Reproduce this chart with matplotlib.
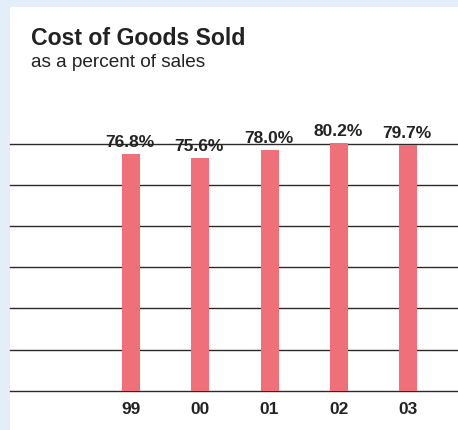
import matplotlib
matplotlib.use("Agg")
import matplotlib.pyplot as plt
from matplotlib.patches import Rectangle
import numpy as np

years = ["99", "00", "01", "02", "03"]
values = [76.8, 75.6, 78.0, 80.2, 79.7]
labels = ["76.8%", "75.6%", "78.0%", "80.2%", "79.7%"]

W, H = 458, 430
DPI = 100
fig = plt.figure(figsize=(W / DPI, H / DPI), dpi=DPI)
fig.patch.set_facecolor("#E3EEF8")

# white panel
fig.patches.append(Rectangle((10 / W, 0), 1 - 10 / W, (H - 7) / H,
                             transform=fig.transFigure, facecolor="white",
                             edgecolor="none", zorder=-5))

narrow = ["Liberation Sans Narrow", "Liberation Sans", "DejaVu Sans"]
sans = ["Liberation Sans", "DejaVu Sans"]

base_px = 390.7
top_px = 144.0
ax = fig.add_axes([10 / W, (H - base_px) / H, 1 - 10 / W, (base_px - top_px) / H])
ax.set_facecolor("none")
ax.set_zorder(2)

x = np.arange(len(years))
step = 69.25
left = (10 - 131) / step
right = (458 - 131) / step
ax.set_xlim(left, right)
ax.set_ylim(0, 80)

for yv in np.linspace(0, 80, 7):
    ax.axhline(yv, color="#2a2a2a", lw=1.0, zorder=1, clip_on=False)

bars = ax.bar(x, values, width=18 / step, color="#F0707A", zorder=2, clip_on=False)

for xi, v, lab in zip(x, values, labels):
    ax.annotate(lab, (xi, v), xytext=(-1, 7), textcoords="offset pixels",
                ha="center", va="baseline", fontsize=12.5, fontweight="bold",
                family=narrow, color="#222222", zorder=5, annotation_clip=False)

ax.set_xticks(x)
ax.set_xticklabels(years, fontsize=12.5, fontweight="bold", family=narrow, color="#222222")
ax.tick_params(axis="x", length=0, pad=8)
ax.set_yticks([])
for s in ax.spines.values():
    s.set_visible(False)

fig.text(31 / W, 1 - 45 / H, "Cost of Goods Sold", fontsize=16.6, fontweight="bold",
         family=sans, color="#222222", ha="left", va="baseline")
fig.text(31 / W, 1 - 66.7 / H, "as a percent of sales", fontsize=13.7,
         family=sans, color="#222222", ha="left", va="baseline")

fig.savefig("out.png", dpi=DPI, facecolor=fig.get_facecolor())
